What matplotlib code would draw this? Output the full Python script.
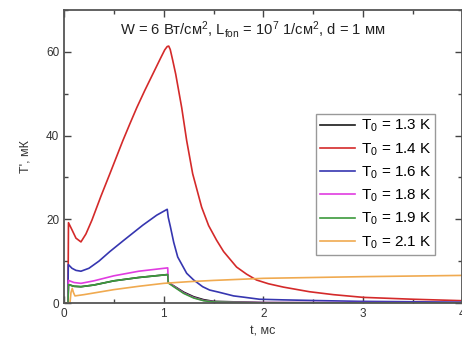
import matplotlib
matplotlib.use("Agg")
import matplotlib.pyplot as plt
from matplotlib.ticker import MultipleLocator

plt.rcParams['font.family'] = ['Liberation Sans', 'DejaVu Sans']
plt.rcParams['mathtext.fontset'] = 'custom'
plt.rcParams['mathtext.rm'] = 'Liberation Sans'
plt.rcParams['mathtext.it'] = 'Liberation Sans'

# values (t in ms, T' in mK)
t_13 = [0, 0.04, 0.045, 0.1, 0.17, 0.3, 0.5, 0.75, 1.04, 1.045, 1.1, 1.2, 1.3, 1.4, 1.5, 2.0, 3.0, 4.0]
T_13 = [0, 0, 4.4, 4.0, 3.9, 4.3, 5.3, 6.1, 6.8, 4.9, 4.1, 2.6, 1.5, 0.8, 0.4, 0.1, 0.05, 0.02]

t_14 = [0, 0.04, 0.045, 0.08, 0.12, 0.17, 0.22, 0.28, 0.37, 0.46, 0.59, 0.66, 0.73, 0.81, 0.89,
        0.97, 1.01, 1.035, 1.05, 1.065, 1.09, 1.12, 1.18, 1.23, 1.29, 1.38, 1.45, 1.53, 1.6,
        1.73, 1.83, 1.93, 2.05, 2.2, 2.46, 2.7, 3.0, 3.5, 4.0]
T_14 = [0, 0, 19.2, 17.5, 15.5, 14.6, 16.5, 19.8, 25.5, 30.9, 38.8, 42.8, 46.7, 50.8, 54.7,
        58.6, 60.5, 61.3, 61.4, 60.6, 58.0, 54.7, 46.7, 38.8, 30.9, 22.9, 18.5, 15.0, 12.3,
        8.6, 6.9, 5.5, 4.6, 3.8, 2.7, 2.0, 1.35, 0.9, 0.55]

t_16 = [0, 0.04, 0.043, 0.08, 0.12, 0.17, 0.25, 0.35, 0.46, 0.6, 0.79, 0.93, 1.035, 1.045,
        1.067, 1.1, 1.14, 1.23, 1.3, 1.39, 1.46, 1.55, 1.7, 1.8, 1.96, 2.2, 2.5, 2.96, 4.0]
T_16 = [0, 0, 9.2, 8.3, 7.8, 7.6, 8.3, 10.0, 12.3, 15.0, 18.6, 21.0, 22.4, 20.5,
        18.2, 14.5, 11.0, 7.1, 5.5, 3.9, 3.1, 2.6, 1.7, 1.4, 0.9, 0.75, 0.6, 0.4, 0.2]

t_18 = [0, 0.04, 0.045, 0.1, 0.17, 0.3, 0.5, 0.75, 1.04, 1.045, 1.1, 1.2, 1.3, 1.4, 1.5, 2.0, 4.0]
T_18 = [0, 0, 5.4, 4.9, 4.7, 5.3, 6.5, 7.6, 8.4, 5.0, 4.0, 2.4, 1.3, 0.6, 0.3, 0.1, 0.05]

t_19 = [0, 0.04, 0.045, 0.1, 0.17, 0.3, 0.5, 0.75, 1.04, 1.045, 1.1, 1.2, 1.3, 1.4, 1.5, 2.0, 4.0]
T_19 = [0, 0, 4.4, 4.0, 3.9, 4.3, 5.3, 6.1, 6.8, 4.8, 3.9, 2.3, 1.2, 0.55, 0.25, 0.05, 0.02]

t_21 = [0, 0.06, 0.07, 0.083, 0.095, 0.11, 0.2, 0.35, 0.5, 0.75, 1.0, 1.25, 1.5, 2.0, 2.5, 3.0, 3.5, 4.0]
T_21 = [0, 0, 2.5, 3.5, 2.5, 1.7, 2.0, 2.6, 3.2, 4.0, 4.7, 5.1, 5.4, 5.9, 6.1, 6.3, 6.45, 6.6]

series = [
    (t_13, T_13, '#1a1a1a', r'T$_0$ = 1.3 K'),
    (t_14, T_14, '#d42a2a', r'T$_0$ = 1.4 K'),
    (t_16, T_16, '#3636b0', r'T$_0$ = 1.6 K'),
    (t_18, T_18, '#e03ce0', r'T$_0$ = 1.8 K'),
    (t_19, T_19, '#3c9a3c', r'T$_0$ = 1.9 K'),
    (t_21, T_21, '#f0aa50', r'T$_0$ = 2.1 K'),
]

fig = plt.figure(figsize=(4.62, 3.45), dpi=100)
ax = fig.add_axes([0.1385, 0.1217, 0.8615, 0.849])

for t, T, c, lab in series:
    ax.plot(t, T, color=c, lw=1.2, label=lab)

ax.set_xlim(0, 3.99)
ax.set_ylim(0, 70)
ax.set_xticks([0, 1, 2, 3, 3.99])
ax.set_xticklabels(['0', '1', '2', '3', '4'])
ax.xaxis.set_minor_locator(MultipleLocator(0.5))
ax.yaxis.set_major_locator(MultipleLocator(20))
ax.yaxis.set_minor_locator(MultipleLocator(10))
ax.tick_params(which='both', direction='in', top=True, right=True,
               labelsize=8.5, color='#444444', labelcolor='#333333')
ax.tick_params(which='major', length=5, width=1)
ax.tick_params(which='minor', length=3, width=1)
for s in ax.spines.values():
    s.set_color('#555555')
    s.set_linewidth(1.3)

ax.set_xlabel('t, мс', fontsize=9, color='#333333')
ax.set_ylabel("T', мК", fontsize=9, color='#333333', labelpad=10)

ax.text(0.475, 0.935, r'W = 6 Вт/см$^2$, L$_{fon}$ = 10$^7$ 1/см$^2$, d = 1 мм',
        transform=ax.transAxes, ha='center', va='center', fontsize=10.6, color='#222222')

leg = ax.legend(loc='upper left', bbox_to_anchor=(0.634, 0.645), fontsize=11,
                fancybox=False, edgecolor='#999999', framealpha=1,
                handlelength=2.3, handletextpad=0.35, labelspacing=0.45,
                borderpad=0.25, borderaxespad=0)
leg.get_frame().set_linewidth(1.0)

fig.savefig('out.png', dpi=100)
